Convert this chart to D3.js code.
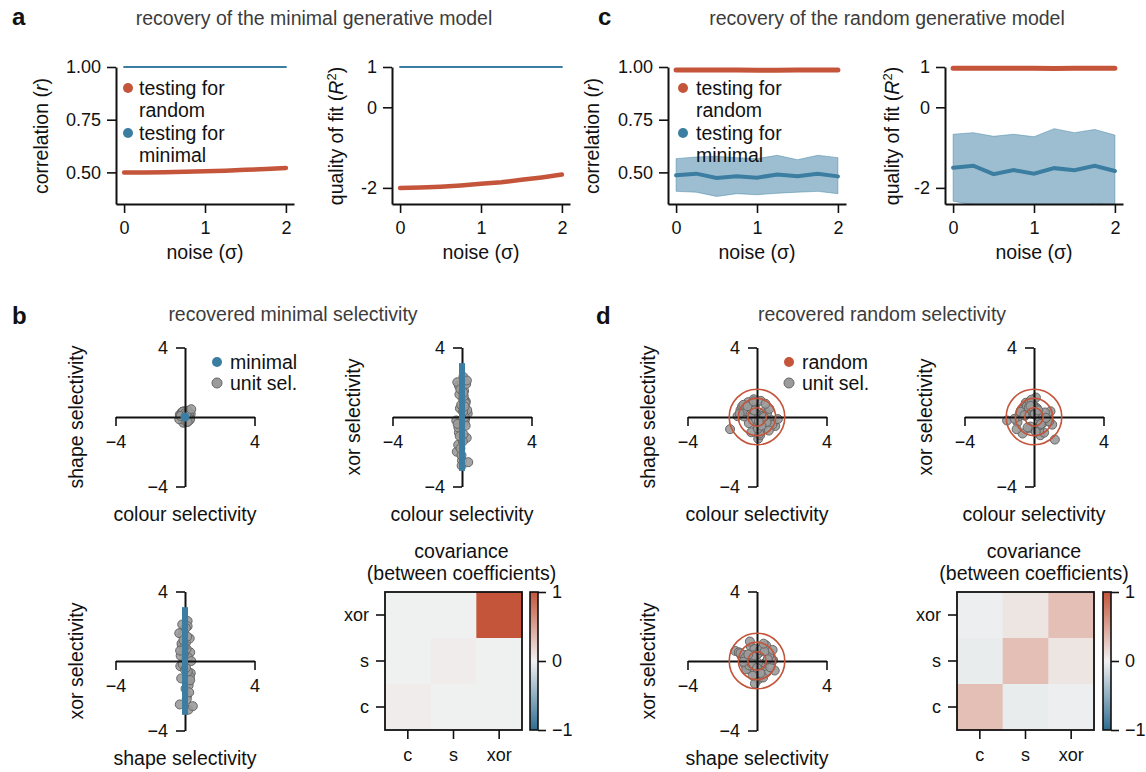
<!DOCTYPE html>
<html>
<head>
<meta charset="utf-8">
<script src="https://cdn.jsdelivr.net/npm/d3@7"></script>
<style>
  body { margin: 0; background: #fff; }
  svg { font-family: "Liberation Sans", Arial, sans-serif; }
  .axis path, .axis line { stroke: #111; }
  .axis text { fill: #111; font-size: 18px; }
</style>
</head>
<body>
<div id="chart"></div>
<script>
'use strict';
// ---- data ----
var noise = [0, 0.25, 0.5, 0.75, 1, 1.25, 1.5, 1.75, 2];

// a: minimal generative model
var minCorrRandom = [0.500, 0.500, 0.501, 0.503, 0.505, 0.508, 0.512, 0.516, 0.521];
var minCorrMinimal = [1, 1, 1, 1, 1, 1, 1, 1, 1];
var minFitRandom = [-2.0, -1.99, -1.97, -1.94, -1.90, -1.86, -1.80, -1.74, -1.67];
var minFitMinimal = [1, 1, 1, 1, 1, 1, 1, 1, 1];

// c: random generative model
var rndCorrRandom = [0.986, 0.986, 0.986, 0.986, 0.985, 0.985, 0.986, 0.986, 0.986];
var rndCorrMinimal = [0.486, 0.494, 0.473, 0.482, 0.475, 0.490, 0.482, 0.494, 0.481];
var rndCorrMinimalHi = [0.565, 0.573, 0.576, 0.570, 0.565, 0.581, 0.560, 0.581, 0.570];
var rndCorrMinimalLo = [0.410, 0.406, 0.386, 0.399, 0.394, 0.401, 0.406, 0.410, 0.399];
var rndFitRandom = [0.97, 0.97, 0.97, 0.97, 0.97, 0.965, 0.97, 0.97, 0.97];
var rndFitMinimal = [-1.50, -1.45, -1.66, -1.56, -1.65, -1.51, -1.56, -1.45, -1.58];
var rndFitMinimalHi = [-0.67, -0.63, -0.72, -0.67, -0.73, -0.53, -0.63, -0.55, -0.69];
var rndFitMinimalLo = [-2.33, -2.42, -2.55, -2.50, -2.60, -2.48, -2.52, -2.38, -2.45];

// b: unit selectivities under the minimal model (colour, shape, xor)
var minC = [0.08,-0.18,0.27,-0.12,0.15,0.03,-0.3,0.22,-0.07,0.12,-0.22,0.33,0.0,-0.15,0.18,-0.05,0.09,-0.27,0.21,-0.1,0.05,0.3,-0.18,0.13,-0.03,0.16,-0.33,0.24,-0.09,0.06,0.2,-0.21,0.1,-0.13,0.28,-0.02,0.15,-0.25,0.08,0.36];
var minS = [0.15,-0.08,0.22,0.3,-0.27,0.08,0.12,-0.18,0.33,-0.15,0.03,0.18,-0.3,0.27,-0.12,0.09,-0.22,0.15,0.0,-0.33,0.21,-0.06,0.28,-0.2,0.1,0.36,-0.13,0.05,0.24,-0.25,-0.03,0.16,-0.09,0.3,-0.16,0.2,-0.28,0.06,0.13,0.45];
var minX = [2.3,1.8,-1.2,0.5,-0.3,1.1,-2.0,0.9,-0.7,1.5,-1.6,0.2,-2.5,1.3,-0.1,0.7,-1.0,2.0,-0.5,1.6,-1.4,0.4,-0.9,1.0,-2.2,0.0,-0.2,1.9,-1.8,0.3,0.8,-0.6,1.2,-1.1,2.1,-2.8,0.6,-0.4,1.4,-2.6];
var minimalXorExtent = [-3.1, 3.1];

// d: unit selectivities under the random model
var rndC = [0.42,-0.61,0.15,-0.28,0.83,-0.95,0.07,0.36,-0.12,-0.47,1.05,-1.55,0.22,-0.05,0.58,-0.33,0.71,-0.74,0.11,-0.19,0.95,-0.86,0.29,-0.41,0.02,0.49,-0.66,0.18,-1.12,0.63,-0.24,0.33,-0.52,0.88,-0.09,0.14,-0.37,0.55,-0.78,1.2,-0.3,0.05,0.4,-0.15,0.68,-1.0,0.25,-0.55,0.1,-0.2];
var rndS = [0.31,0.12,-0.72,0.55,-0.18,0.4,-1.25,0.08,0.66,-0.35,-0.52,-0.7,0.93,-0.15,0.22,-0.88,0.47,0.03,-0.41,1.02,-0.27,0.6,-0.08,0.18,-0.58,0.76,0.35,-1.05,0.05,-0.22,0.52,-0.62,0.85,-0.45,0.26,-0.95,0.14,-0.3,0.7,-0.12,0.44,-0.68,0.0,0.38,-0.78,0.2,-0.5,0.62,-0.25,0.9];
var rndX = [-0.22,0.48,0.35,-0.66,0.12,-0.3,0.58,-1.05,0.2,0.82,-0.44,-0.2,0.05,0.69,-0.9,0.27,-0.12,0.4,1.12,-0.55,0.33,0.04,-0.77,0.62,0.15,-0.36,-0.95,0.5,-0.1,0.26,0.9,-0.48,0.08,-0.25,0.72,0.45,-0.6,-0.15,0.3,-1.3,0.55,0.18,-0.4,1.0,-0.05,-0.7,0.38,0.1,-0.85,0.64];
var randomRings = [0.53, 1.07, 1.6];

// covariance matrices, rows xor, s, c / columns c, s, xor
var coefNames = ['c', 's', 'xor'];
var covMinimal = [[-0.01, -0.01, 1.0], [-0.01, 0.03, -0.01], [0.03, -0.01, -0.01]];
var covRandom = [[-0.02, 0.08, 0.32], [-0.04, 0.32, 0.08], [0.32, -0.04, -0.02]];

// ---- drawing ----
var RED = '#c4553a', BLUE = '#3b7ea1', GREY_FILL = '#9b9b9b', GREY_EDGE = '#666';
var FS = '19.5px';
var width = 1146, height = 772;
var svg = d3.select('#chart').append('svg')
    .attr('width', width).attr('height', height);
svg.append('rect').attr('width', width).attr('height', height).attr('fill', '#fff');

var defs = svg.append('defs');

function styleAxis(g) {
    g.attr('class', 'axis');
    g.select('.domain').attr('stroke-width', 2);
    g.selectAll('.tick line').attr('stroke-width', 1.6);
}

function panelLetter(t, x, y) {
    svg.append('text').attr('x', x).attr('y', y).text(t)
        .style('font-family', '"Liberation Sans Narrow", "Liberation Sans", Arial')
        .style('font-weight', 'bold').style('font-size', '24px').attr('fill', '#111');
}
function sectionTitle(t, x, y) {
    svg.append('text').attr('x', x).attr('y', y).text(t)
        .attr('text-anchor', 'middle').style('font-size', FS).attr('fill', '#3c3c3c');
}

function linePlot(o) {
    var x = d3.scaleLinear().domain([-0.1, 2.1]).range([o.left, o.left + 178]);
    var y = d3.scaleLinear().domain(o.yDomain).range([204, 67]);
    var g = svg.append('g');
    var clipId = 'clip' + o.left;
    defs.append('clipPath').attr('id', clipId).append('rect')
        .attr('x', o.left).attr('y', 0).attr('width', 190).attr('height', 204);

    if (o.bandLo) {
        var area = d3.area()
            .x(function (d, i) { return x(noise[i]); })
            .y0(function (d, i) { return y(o.bandLo[i]); })
            .y1(function (d, i) { return y(o.bandHi[i]); });
        g.append('path').datum(o.bandLo).attr('d', area)
            .attr('clip-path', 'url(#' + clipId + ')')
            .attr('fill', BLUE).attr('fill-opacity', 0.5)
            .attr('stroke', BLUE).attr('stroke-opacity', 0.45).attr('stroke-width', 1);
    }
    var line = d3.line()
        .x(function (d, i) { return x(noise[i]); })
        .y(function (d) { return y(d); });
    o.series.forEach(function (s) {
        g.append('path').datum(s.values).attr('d', line)
            .attr('fill', 'none').attr('stroke', s.color)
            .attr('stroke-width', s.width).attr('stroke-linecap', 'round');
    });

    var ay = g.append('g').attr('transform', 'translate(' + o.left + ',0)')
        .call(d3.axisLeft(y).tickValues(o.yTicks).tickFormat(o.fmt)
            .tickSize(9).tickSizeOuter(0).tickPadding(6));
    styleAxis(ay);
    var ax = g.append('g').attr('transform', 'translate(0,204)')
        .call(d3.axisBottom(x).tickValues([0, 1, 2]).tickFormat(d3.format('d'))
            .tickSize(9).tickSizeOuter(0).tickPadding(8));
    styleAxis(ax);

    g.append('text').attr('x', x(1)).attr('y', 259).attr('text-anchor', 'middle')
        .style('font-size', FS).attr('fill', '#111').text('noise (σ)');

    var yl = g.append('text').attr('transform', 'translate(' + o.labelX + ',136) rotate(-90)')
        .attr('text-anchor', 'middle').style('font-size', FS).attr('fill', '#111');
    yl.append('tspan').text(o.yLabel[0]);
    yl.append('tspan').style('font-style', 'italic').text(o.yLabel[1]);
    if (o.yLabel[2]) {
        yl.append('tspan').attr('baseline-shift', 'super').style('font-size', '13px').text(o.yLabel[2]);
    }
    yl.append('tspan').text(')');

    if (o.legend) {
        var lg = g.append('g');
        [[RED, 'testing for', 'random', 88], [BLUE, 'testing for', 'minimal', 133]].forEach(function (r) {
            lg.append('circle').attr('cx', o.left + o.legend[0]).attr('cy', r[3]).attr('r', 5).attr('fill', r[0]);
            lg.append('text').attr('x', o.left + o.legend[1]).attr('y', r[3] + 7)
                .style('font-size', FS).attr('fill', '#111').text(r[1]);
            lg.append('text').attr('x', o.left + o.legend[1]).attr('y', r[3] + 29)
                .style('font-size', FS).attr('fill', '#111').text(r[2]);
        });
    }
}

function scatter(o) {
    var x = d3.scaleLinear().domain([-4, 4]).range([o.cx - 69.5, o.cx + 69.5]);
    var y = d3.scaleLinear().domain([-4, 4]).range([o.cy + 69.5, o.cy - 69.5]);
    var g = svg.append('g');

    g.selectAll('circle.unit').data(o.xs).enter().append('circle')
        .attr('class', 'unit')
        .attr('cx', function (d) { return x(d); })
        .attr('cy', function (d, i) { return y(o.ys[i]); })
        .attr('r', 4.5)
        .attr('fill', GREY_FILL).attr('fill-opacity', 0.9)
        .attr('stroke', GREY_EDGE).attr('stroke-width', 1);

    var ax = g.append('g').attr('transform', 'translate(0,' + y(0) + ')')
        .call(d3.axisBottom(x).tickValues([-4, 4]).tickSize(9).tickSizeOuter(0).tickPadding(9));
    styleAxis(ax);
    var ay = g.append('g').attr('transform', 'translate(' + x(0) + ',0)')
        .call(d3.axisLeft(y).tickValues([-4, 4]).tickSize(9).tickSizeOuter(0).tickPadding(8));
    styleAxis(ay);

    if (o.model === 'minimal') {
        if (o.bar) {
            g.append('line').attr('x1', x(0)).attr('x2', x(0))
                .attr('y1', y(minimalXorExtent[0])).attr('y2', y(minimalXorExtent[1]))
                .attr('stroke', BLUE).attr('stroke-width', 6);
        } else {
            g.append('circle').attr('cx', x(0)).attr('cy', y(0)).attr('r', 4.5).attr('fill', BLUE);
        }
    } else {
        g.selectAll('circle.ring').data(randomRings).enter().append('circle')
            .attr('class', 'ring')
            .attr('cx', x(0)).attr('cy', y(0))
            .attr('r', function (d) { return x(d) - x(0); })
            .attr('fill', 'none').attr('stroke', RED).attr('stroke-width', 1.6);
    }

    g.append('text').attr('x', o.cx).attr('y', o.cy + 104).attr('text-anchor', 'middle')
        .style('font-size', FS).attr('fill', '#111').text(o.xLabel);
    g.append('text').attr('transform', 'translate(' + (o.cx - 102) + ',' + o.cy + ') rotate(-90)')
        .attr('text-anchor', 'middle').style('font-size', FS).attr('fill', '#111').text(o.yLabel);

    if (o.legend) {
        var items = o.model === 'minimal'
            ? [['minimal', BLUE, 'none'], ['unit sel.', GREY_FILL, GREY_EDGE]]
            : [['random', RED, 'none'], ['unit sel.', GREY_FILL, GREY_EDGE]];
        items.forEach(function (it, i) {
            var yy = o.cy - 55 + i * 21;
            g.append('circle').attr('cx', o.cx + 32).attr('cy', yy).attr('r', 5)
                .attr('fill', it[1]).attr('stroke', it[2]);
            g.append('text').attr('x', o.cx + 45).attr('y', yy + 7)
                .style('font-size', FS).attr('fill', '#111').text(it[0]);
        });
    }
}

var cmap = d3.scaleLinear().domain([-1, 0, 1]).range(['#2f6d92', '#f1f1f1', RED]);

function heatmap(x0, cbX, matrix) {
    var rows = coefNames.slice().reverse();
    var x = d3.scaleBand().domain(coefNames).range([x0, x0 + 137]);
    var y = d3.scaleBand().domain(rows).range([592, 730]);
    var g = svg.append('g');
    matrix.forEach(function (row, ri) {
        row.forEach(function (v, ci) {
            g.append('rect').attr('x', x(coefNames[ci])).attr('y', y(rows[ri]))
                .attr('width', x.bandwidth() + 0.5).attr('height', y.bandwidth() + 0.5)
                .attr('fill', cmap(v));
        });
    });
    g.append('rect').attr('x', x0).attr('y', 592).attr('width', 137).attr('height', 138)
        .attr('fill', 'none').attr('stroke', '#111').attr('stroke-width', 1.8);
    var ay = g.append('g').attr('transform', 'translate(' + x0 + ',0)')
        .call(d3.axisLeft(y).tickSize(9).tickSizeOuter(0).tickPadding(7));
    styleAxis(ay);
    ay.select('.domain').remove();
    var ax = g.append('g').attr('transform', 'translate(0,730)')
        .call(d3.axisBottom(x).tickSize(9).tickSizeOuter(0).tickPadding(9));
    styleAxis(ax);
    ax.select('.domain').remove();

    // colour bar
    var gid = 'grad' + x0;
    var grad = defs.append('linearGradient').attr('id', gid)
        .attr('x1', 0).attr('y1', 1).attr('x2', 0).attr('y2', 0);
    d3.range(0, 1.0001, 0.1).forEach(function (t) {
        grad.append('stop').attr('offset', t).attr('stop-color', cmap(t * 2 - 1));
    });
    var cb = d3.scaleLinear().domain([-1, 1]).range([730, 592]);
    g.append('rect').attr('x', cbX).attr('y', 592).attr('width', 8).attr('height', 138)
        .attr('fill', 'url(#' + gid + ')').attr('stroke', '#111').attr('stroke-width', 1.6);
    var ac = g.append('g').attr('transform', 'translate(' + (cbX + 8) + ',0)')
        .call(d3.axisRight(cb).tickValues([-1, 0, 1]).tickFormat(d3.format('d'))
            .tickSize(8).tickSizeOuter(0).tickPadding(6));
    styleAxis(ac);
    ac.select('.domain').remove();

    var tx = (x0 + cbX + 8) / 2;
    g.append('text').attr('x', tx).attr('y', 558).attr('text-anchor', 'middle')
        .style('font-size', FS).attr('fill', '#111').text('covariance');
    g.append('text').attr('x', tx).attr('y', 580).attr('text-anchor', 'middle')
        .style('font-size', FS).attr('fill', '#111').text('(between coefficients)');
}

// titles and letters
panelLetter('a', 12, 25);
panelLetter('c', 598, 25);
panelLetter('b', 12, 324);
panelLetter('d', 596, 324);
sectionTitle('recovery of the minimal generative model', 314, 25);
sectionTitle('recovery of the random generative model', 887, 25);
sectionTitle('recovered minimal selectivity', 293, 321);
sectionTitle('recovered random selectivity', 882, 321);

var fmt2 = d3.format('.2f');
var fmtHyphen = function (d) { return String(d); };

linePlot({ left: 116, yDomain: [0.35, 1.0], yTicks: [0.5, 0.75, 1.0], fmt: fmt2,
    labelX: 48, yLabel: ['correlation (', 'r'], legend: [12, 23],
    series: [{ values: minCorrMinimal, color: BLUE, width: 2 },
             { values: minCorrRandom, color: RED, width: 4.5 }] });
linePlot({ left: 392, yDomain: [-2.4, 1.0], yTicks: [-2, 0, 1], fmt: fmtHyphen,
    labelX: 343, yLabel: ['quality of fit (', 'R', '2'],
    series: [{ values: minFitMinimal, color: BLUE, width: 2 },
             { values: minFitRandom, color: RED, width: 4.5 }] });
linePlot({ left: 668, yDomain: [0.35, 1.0], yTicks: [0.5, 0.75, 1.0], fmt: fmt2,
    labelX: 599, yLabel: ['correlation (', 'r'], legend: [15, 28],
    bandLo: rndCorrMinimalLo, bandHi: rndCorrMinimalHi,
    series: [{ values: rndCorrMinimal, color: BLUE, width: 4 },
             { values: rndCorrRandom, color: RED, width: 5 }] });
linePlot({ left: 945, yDomain: [-2.4, 1.0], yTicks: [-2, 0, 1], fmt: fmtHyphen,
    labelX: 899, yLabel: ['quality of fit (', 'R', '2'],
    bandLo: rndFitMinimalLo, bandHi: rndFitMinimalHi,
    series: [{ values: rndFitMinimal, color: BLUE, width: 4 },
             { values: rndFitRandom, color: RED, width: 5 }] });

scatter({ cx: 185, cy: 417, xs: minC, ys: minS, model: 'minimal', bar: false, legend: true,
    xLabel: 'colour selectivity', yLabel: 'shape selectivity' });
scatter({ cx: 462, cy: 417, xs: minC, ys: minX, model: 'minimal', bar: true,
    xLabel: 'colour selectivity', yLabel: 'xor selectivity' });
scatter({ cx: 185, cy: 661, xs: minS, ys: minX, model: 'minimal', bar: true,
    xLabel: 'shape selectivity', yLabel: 'xor selectivity' });
scatter({ cx: 757, cy: 417, xs: rndC, ys: rndS, model: 'random', legend: true,
    xLabel: 'colour selectivity', yLabel: 'shape selectivity' });
scatter({ cx: 1034, cy: 417, xs: rndC, ys: rndX, model: 'random',
    xLabel: 'colour selectivity', yLabel: 'xor selectivity' });
scatter({ cx: 757, cy: 661, xs: rndS, ys: rndX, model: 'random',
    xLabel: 'shape selectivity', yLabel: 'xor selectivity' });

heatmap(385, 530, covMinimal);
heatmap(957, 1103, covRandom);
</script>
</body>
</html>
